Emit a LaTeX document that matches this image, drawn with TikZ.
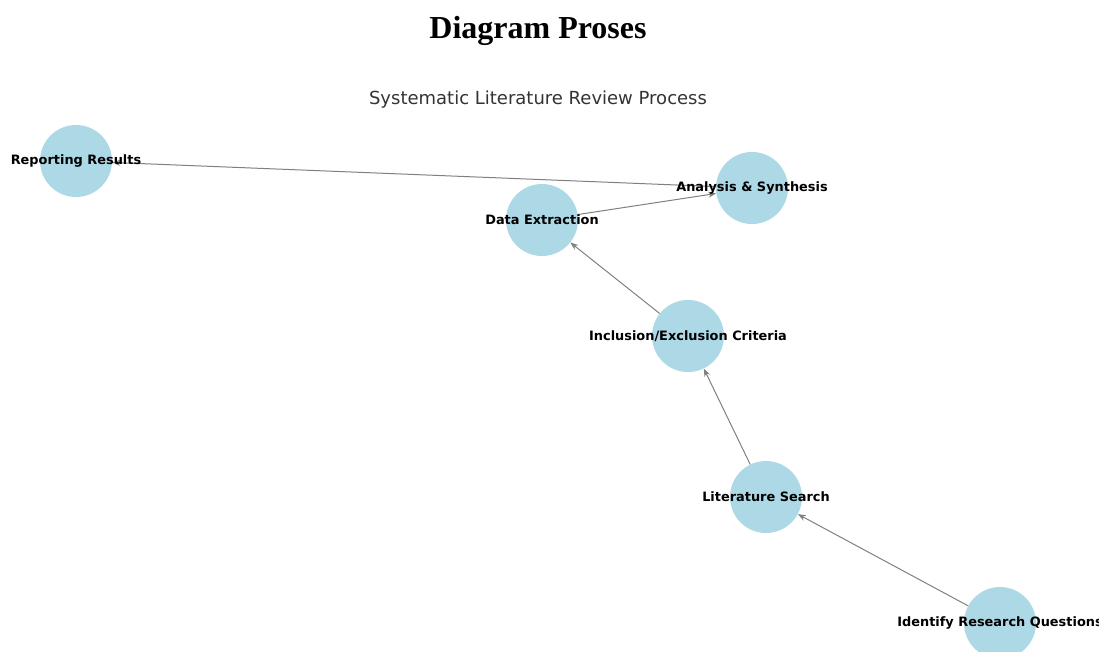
\documentclass[tikz,border=0pt]{standalone}
\usepackage{fontspec}
\setmainfont{Liberation Serif}
\newfontfamily\labelfont{DejaVu Sans}
\usetikzlibrary{arrows.meta}
\definecolor{nodeblue}{HTML}{ADD8E6}
\definecolor{edgegray}{HTML}{808080}
\definecolor{subgray}{HTML}{333333}

\begin{document}
\begin{tikzpicture}[x=1pt,y=-1pt,
	stage/.style={circle,fill=nodeblue,minimum size=72pt,inner sep=0pt},
	stagelabel/.style={font=\labelfont\bfseries\fontsize{12.9}{15}\selectfont,text=black,inner sep=0pt},
	flow/.style={draw=edgegray,line width=1pt,-{Stealth[length=8pt,width=6pt]}}]
	\useasboundingbox (0,0) rectangle (1099,651);
	
	\node[font=\bfseries\fontsize{32}{36}\selectfont] (title) at (538,31) {Diagram Proses};
	\node[font=\labelfont\fontsize{18}{21}\selectfont,text=subgray] (subtitle) at (538,100) {Systematic Literature Review Process};
	
	\node[stage] (report) at (76,161) {};
	\node[stage] (analysis) at (752,188) {};
	\node[stage] (extract) at (542,220) {};
	\node[stage] (criteria) at (688,336) {};
	\node[stage] (search) at (766,497) {};
	\node[stage] (question) at (1000,623) {};
	
	\draw[flow] (question)--(search);	%Identify
	\draw[flow] (search)--(criteria);	%Search
	\draw[flow] (criteria)--(extract);	%Criteria
	\draw[flow] (extract)--(analysis);	%Extraction
	\draw[flow] (analysis)--(report);	%Synthesis
	
	\node[stagelabel] (report-t) at (report) {Reporting Results};
	\node[stagelabel] (analysis-t) at (analysis) {Analysis \& Synthesis};
	\node[stagelabel] (extract-t) at (extract) {Data Extraction};
	\node[stagelabel] (criteria-t) at (criteria) {Inclusion/Exclusion Criteria};
	\node[stagelabel] (search-t) at (search) {Literature Search};
	\node[stagelabel] (question-t) at (question) {Identify Research Questions};
\end{tikzpicture}
\end{document}
